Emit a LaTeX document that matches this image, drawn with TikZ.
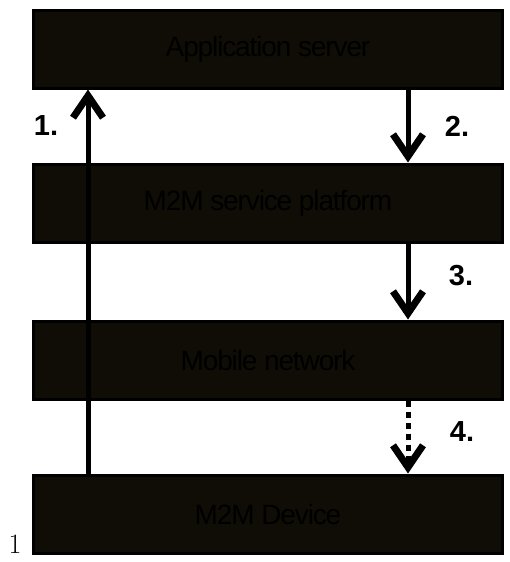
\documentclass[tikz,border=0pt]{standalone}
\usepackage{fontspec}
\setmainfont{Liberation Sans}
\newfontfamily\serifone{Latin Modern Roman}
\usetikzlibrary{arrows.meta}
\definecolor{boxfill}{HTML}{0F0D06}
\tikzset{
  layer/.style={draw=black, line width=3pt, fill=boxfill, minimum width=469pt, minimum height=78pt, inner sep=0pt,
    font=\fontsize{28}{30}\selectfont\addfontfeatures{LetterSpace=-4}, text=black},
  flow/.style={line width=5pt, -{Straight Barb[length=22pt, width=30pt, line width=7pt]}},
  dotflow/.style={flow, dash pattern=on 6pt off 5pt},
  steplabel/.style={font=\fontsize{29}{30}\selectfont\bfseries, inner sep=0pt}
}
\begin{document}
\begin{tikzpicture}[x=1pt, y=-1pt]
\useasboundingbox (0,0) rectangle (509,562);
\node[layer] (app) at (268,49) {Application server};
\node[layer] (svc) at (268,203) {M2M service platform};
\node[layer] (mob) at (268,360) {Mobile network};
\node[layer] (dev) at (268,514) {M2M Device};
\coordinate (a1s) at (88,475);
\coordinate (a1e) at (88,95);
\draw[flow] (dev.north -| a1s) -- (app.south -| a1e);
\coordinate (ax) at (408,0);
\draw[flow] (app.south -| ax) -- (svc.north -| ax);
\draw[flow] (svc.south -| ax) -- (mob.north -| ax);
\draw[dotflow] (mob.south -| ax) -- (dev.north -| ax);
\node[steplabel] (l1) at (46,126) {1.};
\node[steplabel] (l2) at (457,126) {2.};
\node[steplabel] (l3) at (461,276) {3.};
\node[steplabel] (l4) at (462,432) {4.};
\node[font=\serifone\fontsize{28}{30}\selectfont, inner sep=0pt, anchor=base] (one) at (15,553) {1};
\end{tikzpicture}
\end{document}
